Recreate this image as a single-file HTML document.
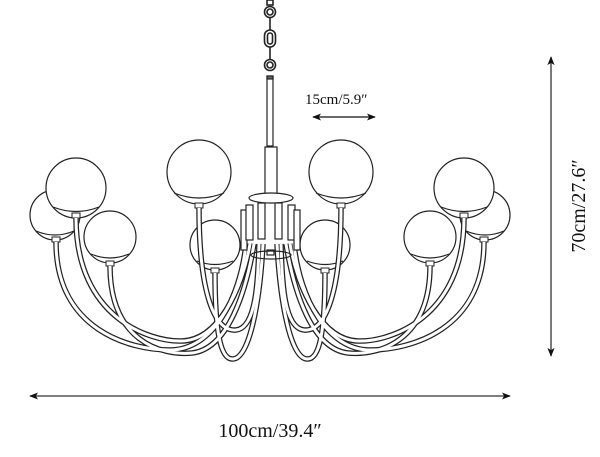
<!DOCTYPE html>
<html><head><style>
html,body{margin:0;padding:0;background:#fff;}
svg{display:block;}
text{font-family:"Liberation Serif",serif;fill:#111;}
</style></head><body>
<svg width="600" height="457" viewBox="0 0 600 457" xmlns="http://www.w3.org/2000/svg">
<defs>
<marker id="ah" viewBox="0 0 10 10" refX="9" refY="5" markerWidth="9" markerHeight="9" orient="auto-start-reverse" markerUnits="userSpaceOnUse"><path d="M0,1 L10,5 L0,9 L2.5,5 z" fill="#111"/></marker>
<g id="half">
  <g fill="#fff" stroke="#222" stroke-width="1.2">
    <circle cx="55" cy="215" r="25"/>
    <path d="M36 231 Q55 239 74 231" fill="none"/>
    <circle cx="76" cy="188" r="30"/>
    <path d="M53 207 Q76 216 99 207" fill="none"/>
    <circle cx="110" cy="237" r="26"/>
    <path d="M91 254 Q110 262 129 254" fill="none"/>
    <circle cx="215" cy="245" r="25"/>
    <path d="M197 261 Q215 268 233 261" fill="none"/>
    <circle cx="199" cy="172" r="32"/>
    <path d="M174 193 Q199 203 224 193" fill="none"/>
  </g>
  <g fill="#fff" stroke="#222" stroke-width="1">
    <rect x="52" y="237" width="8" height="5"/>
    <rect x="72" y="213" width="8" height="5"/>
    <rect x="106" y="261" width="8" height="5"/>
    <rect x="195" y="203" width="8" height="5"/>
    <rect x="211" y="268" width="8" height="5"/>
  </g>
  <g fill="none" stroke-linecap="butt">
    <g stroke="#222" stroke-width="5.5">
      <path id="a1" d="M56 242 C56 330 130 350 170 350 C212 350 240 300 246 244"/>
      <path id="a2" d="M76 218 C76 318 150 342 182 341 C218 340 242 290 250 244"/>
      <path id="a3" d="M110 266 C110 340 160 356 192 353 C228 349 246 292 254 244"/>
      <path id="a4" d="M199 208 C199 285 212 332 236 330 C256 328 258 282 259 244"/>
      <path id="a5" d="M215 273 C215 330 220 360 233 359 C250 358 260 300 263 244"/>
    </g>
    <g stroke="#fff" stroke-width="3">
      <use href="#a1"/><use href="#a2"/><use href="#a3"/><use href="#a4"/><use href="#a5"/>
    </g>
  </g>
</g>
</defs>

<use href="#half"/>
<use href="#half" transform="translate(540,0) scale(-1,1)"/>

<g fill="none" stroke="#222" stroke-width="1.6">
  <rect x="267" y="0" width="6" height="5"/>
  <circle cx="270" cy="12" r="5.5"/>
  <circle cx="270" cy="12" r="3"/>
  <rect x="264.5" y="30" width="11" height="17" rx="5.5"/>
  <rect x="267.5" y="33" width="5" height="11" rx="2.5"/>
  <circle cx="270" cy="65" r="5.5"/>
  <circle cx="270" cy="65" r="3"/>
  <line x1="270" y1="18" x2="270" y2="30"/>
  <line x1="270" y1="47" x2="270" y2="59"/>
</g>
<g fill="none" stroke="#222" stroke-width="1.2">
  <rect x="267" y="76" width="6" height="70" fill="#fff"/>
  <rect x="267" y="76" width="6" height="3" fill="#666"/>
  <rect x="265" y="147" width="12" height="50" fill="#fff"/>
  <ellipse cx="271" cy="198" rx="22" ry="5" fill="#fff"/>
  <rect x="241" y="210" width="6" height="40" fill="#fff"/>
  <rect x="246" y="205" width="7" height="35" fill="#fff"/>
  <rect x="258" y="203" width="7" height="36" fill="#fff"/>
  <rect x="275" y="203" width="7" height="36" fill="#fff"/>
  <rect x="288" y="205" width="7" height="35" fill="#fff"/>
  <rect x="294" y="210" width="6" height="40" fill="#fff"/>
  <ellipse cx="271" cy="255" rx="20" ry="4"/>
  <rect x="267" y="250" width="7" height="5"/>
</g>

<text x="305" y="104" font-size="15">15cm/5.9″</text>
<line x1="313" y1="117" x2="375" y2="117" stroke="#111" stroke-width="1.3" marker-start="url(#ah)" marker-end="url(#ah)"/>

<line x1="30" y1="396" x2="510" y2="396" stroke="#333" stroke-width="1.3" marker-start="url(#ah)" marker-end="url(#ah)"/>
<text x="270" y="437" font-size="20" text-anchor="middle">100cm/39.4″</text>

<line x1="551" y1="57" x2="551" y2="356" stroke="#333" stroke-width="1.3" marker-start="url(#ah)" marker-end="url(#ah)"/>
<text x="0" y="0" font-size="20" text-anchor="middle" transform="translate(585,206) rotate(-90)">70cm/27.6″</text>
</svg>
</body></html>
